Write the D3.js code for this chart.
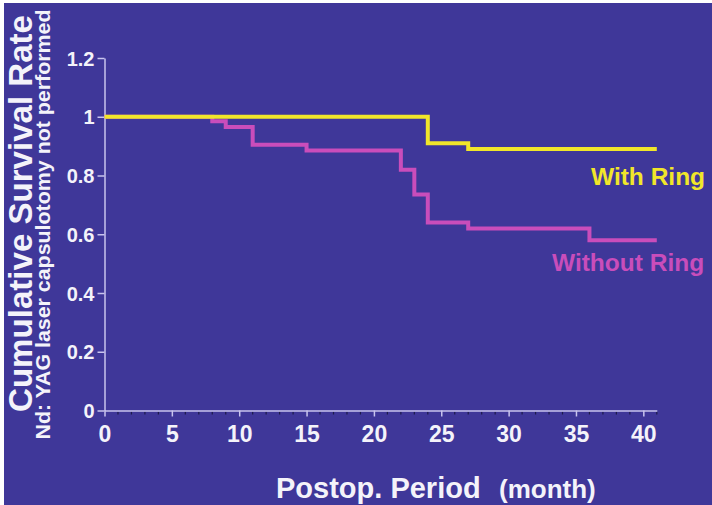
<!DOCTYPE html>
<html>
<head>
<meta charset="utf-8">
<script src="https://cdn.jsdelivr.net/npm/d3@7"></script>
<style>
  html, body { margin: 0; padding: 0; background: #ffffff; }
  svg { display: block; }
  text { font-family: "Liberation Sans", Arial, Helvetica, sans-serif; }
</style>
</head>
<body>
<svg id="chart" width="712" height="505"></svg>
<script>
// Kaplan-Meier style survival curves (months after surgery)
const withRingMonths    = [0, 24, 27, 41];
const withRingSurvival  = [1, 0.91, 0.89, 0.89];
const withoutRingMonths   = [0, 8, 9, 11, 15, 22, 23, 24, 27, 36, 41];
const withoutRingSurvival = [1, 0.985, 0.965, 0.905, 0.885, 0.82, 0.735, 0.64, 0.62, 0.58, 0.58];

const yTickValues = [0, 0.2, 0.4, 0.6, 0.8, 1, 1.2];
const yTickLabels = ["0", "0.2", "0.4", "0.6", "0.8", "1", "1.2"];
const xTickValues = [0, 5, 10, 15, 20, 25, 30, 35, 40];
const xTickLabels = ["0", "5", "10", "15", "20", "25", "30", "35", "40"];

const seriesNames = ["With Ring", "Without Ring"];

const BG = "#3f3799";
const AXIS = "#c9c5ee";
const YELLOW = "#f1e62a";
const PINK = "#c94dbb";
const LABEL = "#f4f3fa";

const svg = d3.select("#chart");

// panel background (thin white margin on top and left)
svg.append("rect").attr("x", 4).attr("y", 3).attr("width", 708).attr("height", 502).attr("fill", BG);

const x = d3.scaleLinear().domain([0, 41]).range([104.5, 656.8]);
const y = d3.scaleLinear().domain([0, 1.2]).range([410.5, 58]);

// y axis
const yAxis = d3.axisLeft(y)
  .tickValues(yTickValues)
  .tickFormat((d, i) => yTickLabels[i])
  .tickSize(7)
  .tickSizeOuter(0)
  .tickPadding(3);
const gy = svg.append("g").attr("transform", `translate(${x(0)},0)`).call(yAxis);
gy.select(".domain").attr("stroke", AXIS).attr("stroke-width", 1.5);
gy.selectAll(".tick line").attr("stroke", AXIS).attr("stroke-width", 1.5);
gy.selectAll(".tick text")
  .attr("fill", LABEL).attr("font-size", 20).attr("font-weight", "bold")
  .attr("dy", "0.36em");

// x axis: minor month ticks
const months = d3.range(1, 42).filter(m => m % 5 !== 0);
svg.append("g").selectAll("line").data(months).join("line")
  .attr("x1", d => x(d)).attr("x2", d => x(d))
  .attr("y1", y(0) + 1).attr("y2", y(0) + 4)
  .attr("stroke", "#1c1a4a").attr("stroke-width", 1.2);

const xAxis = d3.axisBottom(x)
  .tickValues(xTickValues)
  .tickFormat((d, i) => xTickLabels[i])
  .tickSize(6)
  .tickSizeOuter(0)
  .tickPadding(9);
const gx = svg.append("g").attr("transform", `translate(0,${y(0)})`).call(xAxis);
gx.select(".domain").attr("stroke", AXIS).attr("stroke-width", 1.5);
gx.selectAll(".tick line").attr("stroke", AXIS).attr("stroke-width", 1.5);
gx.selectAll(".tick text")
  .attr("fill", LABEL).attr("font-size", 23).attr("font-weight", "bold");

// survival step curves
const line = d3.line()
  .x(d => x(d[0]))
  .y(d => y(d[1]))
  .curve(d3.curveStepAfter);

svg.append("path")
  .datum(d3.zip(withoutRingMonths, withoutRingSurvival))
  .attr("d", line).attr("fill", "none")
  .attr("stroke", PINK).attr("stroke-width", 4).attr("stroke-linejoin", "miter");

svg.append("path")
  .datum(d3.zip(withRingMonths, withRingSurvival))
  .attr("d", line).attr("fill", "none")
  .attr("stroke", YELLOW).attr("stroke-width", 4).attr("stroke-linejoin", "miter");

// series labels
svg.append("text").attr("x", 591).attr("y", 185)
  .attr("fill", YELLOW).attr("font-size", 24.5).attr("font-weight", "bold")
  .text(seriesNames[0]);
svg.append("text").attr("x", 552).attr("y", 271)
  .attr("fill", PINK).attr("font-size", 24.5).attr("font-weight", "bold")
  .text(seriesNames[1]);

// y axis titles
svg.append("text")
  .attr("transform", "translate(32,213.5) rotate(-90)")
  .attr("text-anchor", "middle")
  .attr("fill", LABEL).attr("font-size", 33).attr("font-weight", "bold")
  .attr("textLength", 397).attr("lengthAdjust", "spacingAndGlyphs")
  .text("Cumulative Survival Rate");
svg.append("text")
  .attr("transform", "translate(50,224.5) rotate(-90)")
  .attr("text-anchor", "middle")
  .attr("fill", LABEL).attr("font-size", 21).attr("font-weight", "bold")
  .attr("textLength", 430).attr("lengthAdjust", "spacingAndGlyphs")
  .text("Nd: YAG laser capsulotomy not performed");

// x axis title
const xt = svg.append("text").attr("x", 276).attr("y", 498).attr("fill", LABEL).attr("font-weight", "bold");
xt.append("tspan").attr("font-size", 29).text("Postop. Period");
xt.append("tspan").attr("x", 499).attr("font-size", 26).text("(month)");
</script>
</body>
</html>
